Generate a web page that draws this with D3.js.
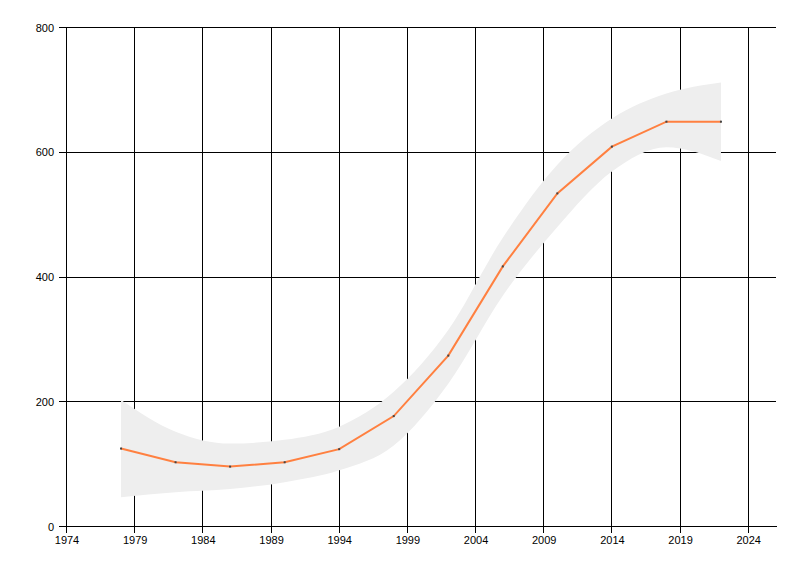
<!DOCTYPE html>
<html>
<head>
<meta charset="utf-8">
<script src="https://cdn.jsdelivr.net/npm/d3@7"></script>
<style>
  body { margin: 0; background: #fff; }
  svg text { font-family: "Liberation Sans", Arial, sans-serif; font-size: 11px; fill: #000; }
</style>
</head>
<body>
<svg id="chart" width="800" height="576"></svg>
<script>
// data
const years = [1978, 1982, 1986, 1990, 1994, 1998, 2002, 2006, 2010, 2014, 2018, 2022];
const values = [125, 103, 96, 103, 124, 177, 274, 417, 534, 609, 649, 649];
const bandUpper = [203, 152, 133, 139, 160, 216, 315, 463, 580, 654, 694, 712];
const bandLower = [47, 55, 60, 71, 90, 130, 229, 370, 480, 569, 608, 586];
const xTicks = [1974, 1979, 1984, 1989, 1994, 1999, 2004, 2009, 2014, 2019, 2024];
const yTicks = [0, 200, 400, 600, 800];

const svg = d3.select('#chart');
const plotLeft = 66.5, plotRight = 775.5, plotTop = 27.5, plotBottom = 526.5;

const x = d3.scaleLinear().domain([1974, 2026]).range([plotLeft, plotRight]);
const y = d3.scaleLinear().domain([0, 800]).range([plotBottom, plotTop]);

// snap to pixel centres so 1px lines stay crisp
const px = v => Math.floor(v) + 0.5;

// grid
const grid = svg.append('g').attr('stroke', '#000').attr('stroke-width', 1).attr('shape-rendering', 'crispEdges');
grid.selectAll('line.v')
  .data(xTicks)
  .enter()
  .append('line')
  .attr('x1', d => px(x(d)))
  .attr('x2', d => px(x(d)))
  .attr('y1', plotTop)
  .attr('y2', plotBottom + 6);
grid.selectAll('line.h')
  .data(yTicks)
  .enter()
  .append('line')
  .attr('x1', plotLeft - 8)
  .attr('x2', plotRight)
  .attr('y1', d => px(y(d)))
  .attr('y2', d => px(y(d)));

// confidence band
const band = d3.area()
  .x((d, i) => x(years[i]))
  .y0((d, i) => y(bandLower[i]))
  .y1((d, i) => y(bandUpper[i]))
  .curve(d3.curveMonotoneX);

svg.append('path')
  .datum(years)
  .attr('d', band)
  .attr('fill', '#eeeeee');

// axes
const xAxis = d3.axisBottom(x).tickValues(xTicks).tickSize(6).tickFormat(d3.format('d'));
const gx = svg.append('g').attr('transform', `translate(0,${plotBottom - 0.5})`).call(xAxis);
gx.select('.domain').attr('d', `M${plotLeft},0.5H${plotRight + 1}`).attr('stroke', '#000').attr('shape-rendering', 'crispEdges');
gx.selectAll('.tick line').remove();
gx.selectAll('.tick text').attr('y', 10).attr('dy', '0.71em');

const yAxis = d3.axisLeft(y).tickValues(yTicks).tickSize(8);
const gy = svg.append('g').attr('transform', `translate(${plotLeft - 0.5},0)`).call(yAxis);
gy.select('.domain').attr('d', `M0.5,${plotTop - 0.5}V${plotBottom + 1}`).attr('stroke', '#000').attr('shape-rendering', 'crispEdges');
gy.selectAll('.tick line').remove();
gy.selectAll('.tick text').attr('x', -12);

// line
const line = d3.line()
  .x((d, i) => x(years[i]))
  .y(d => y(d));

svg.append('path')
  .datum(values)
  .attr('d', line)
  .attr('fill', 'none')
  .attr('stroke', '#ff8040')
  .attr('stroke-width', 2);

// points
svg.selectAll('rect.pt')
  .data(values)
  .enter()
  .append('rect')
  .attr('x', (d, i) => x(years[i]) - 1)
  .attr('y', d => y(d) - 1)
  .attr('width', 2)
  .attr('height', 2)
  .attr('fill', '#444');
</script>
</body>
</html>
